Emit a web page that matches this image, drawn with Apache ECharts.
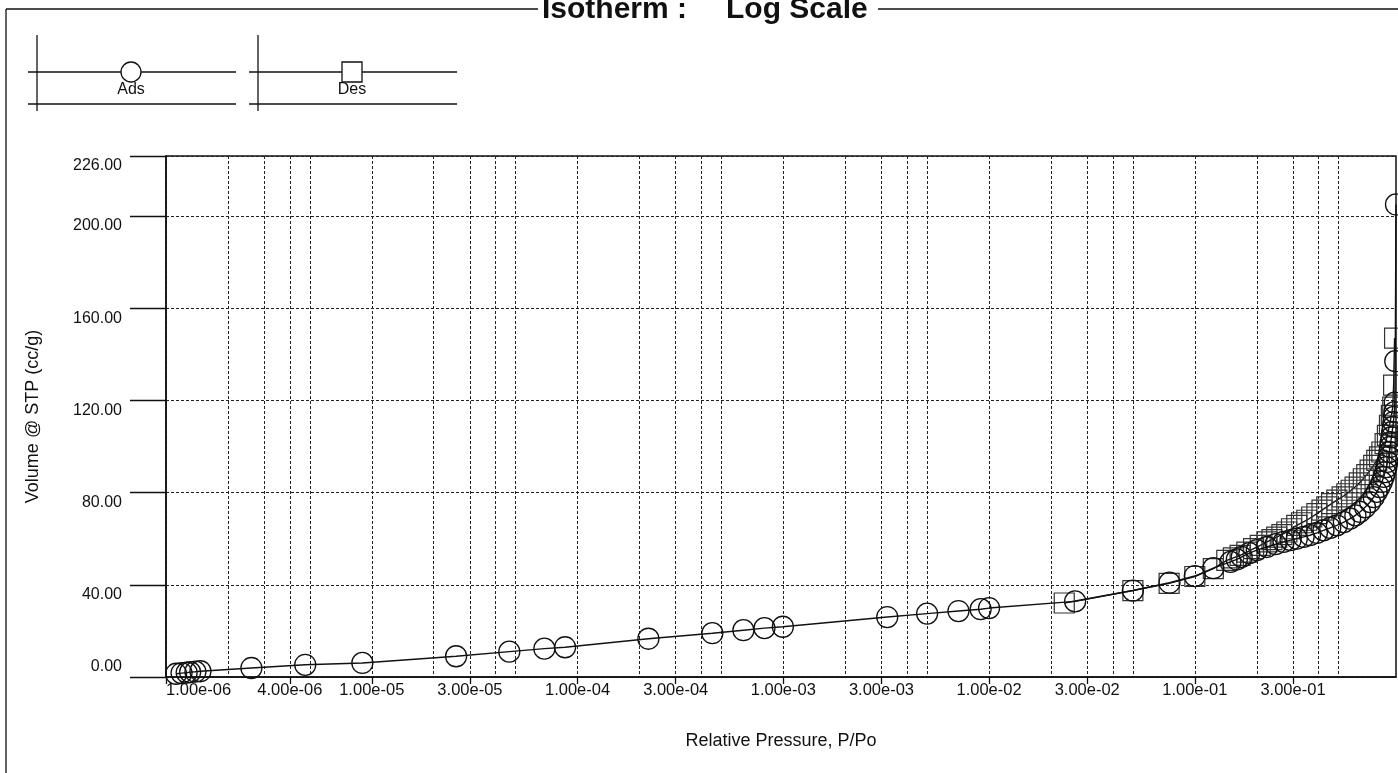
<!DOCTYPE html>
<html>
<head>
<meta charset="utf-8">
<script src="https://cdn.jsdelivr.net/npm/echarts@6/dist/echarts.min.js"></script>
<style>
  html, body { margin: 0; padding: 0; background: #ffffff; }
  #chart { width: 1398px; height: 773px; }
</style>
</head>
<body>
<div id="chart"></div>
<script>
// Adsorption branch: relative pressure P/Po and volume adsorbed (cc/g STP)
const adsP = [1.12e-6, 1.19e-6, 1.26e-6, 1.31e-6, 1.39e-6, 1.47e-6, 2.6e-6, 4.75e-6, 9.0e-6,
  2.57e-5, 4.66e-5, 6.9e-5, 8.7e-5, 2.21e-4, 4.52e-4, 6.4e-4, 8.1e-4, 9.95e-4,
  3.2e-3, 5.0e-3, 7.1e-3, 9.1e-3, 1.0e-2, 0.0262, 0.050, 0.0753, 0.100, 0.123,
  0.149, 0.160, 0.169, 0.184, 0.200, 0.224, 0.247, 0.270, 0.292, 0.313, 0.338, 0.363,
  0.392, 0.422, 0.455, 0.490, 0.530, 0.569, 0.603, 0.635, 0.672, 0.711, 0.740, 0.766,
  0.790, 0.811, 0.828, 0.841, 0.853, 0.863, 0.874, 0.883, 0.890, 0.895, 0.903, 0.910,
  0.917, 0.923, 0.928, 0.933, 0.937, 0.942, 0.950];
const adsV = [1.4, 1.7, 1.9, 2.1, 2.3, 2.5, 3.9, 5.3, 6.1,
  9.0, 11.0, 12.3, 12.9, 16.6, 19.0, 20.3, 21.2, 21.8,
  26.0, 27.5, 28.6, 29.4, 29.9, 32.8, 37.5, 40.9, 43.8, 47.2,
  49.9, 51.0, 52.1, 53.7, 55.0, 56.4, 57.6, 58.6, 59.4, 60.0, 60.8, 61.5,
  62.5, 63.6, 64.7, 65.8, 67.2, 68.7, 70.1, 71.6, 73.6, 75.9, 78.0, 80.3,
  82.4, 84.6, 86.8, 88.9, 91.0, 93.3, 95.5, 97.6, 99.8, 101.9, 104.0, 106.3,
  108.5, 110.6, 112.8, 114.9, 119.0, 137.0, 205.0];

// Desorption branch, recorded from high to low pressure
const desP = [0.935, 0.925, 0.916, 0.902, 0.883, 0.863, 0.841, 0.811, 0.790, 0.766,
  0.740, 0.711, 0.685, 0.659, 0.630, 0.601, 0.575, 0.548, 0.520, 0.490,
  0.462, 0.438, 0.415, 0.392, 0.370, 0.350, 0.330, 0.313, 0.295, 0.280,
  0.265, 0.250, 0.237, 0.224, 0.208, 0.193, 0.179, 0.166, 0.154, 0.143,
  0.123, 0.100, 0.075, 0.050, 0.0232];
const desV = [147.0, 126.6, 117.1, 113.5, 109.2, 104.8, 101.2, 97.6, 95.5, 94.0,
  91.8, 89.7, 87.8, 86.0, 84.2, 82.4, 81.0, 79.5, 78.1, 76.7,
  75.2, 73.8, 72.4, 70.9, 69.4, 68.0, 66.9, 65.8, 64.3, 62.9,
  61.8, 60.7, 59.6, 58.6, 57.1, 55.7, 54.2, 52.8, 51.7, 50.6,
  47.0, 43.6, 40.6, 37.5, 32.1];

// Labelled pressure ticks and dotted grid positions on the log axis
const xTickLabels = [1e-6, 4e-6, 1e-5, 3e-5, 1e-4, 3e-4, 1e-3, 3e-3, 1e-2, 3e-2, 1e-1, 3e-1];
const xGridValues = [
  1e-6, 2e-6, 3e-6, 4e-6, 5e-6,
  1e-5, 2e-5, 3e-5, 4e-5, 5e-5,
  1e-4, 2e-4, 3e-4, 4e-4, 5e-4,
  1e-3, 2e-3, 3e-3, 4e-3, 5e-3,
  1e-2, 2e-2, 3e-2, 4e-2, 5e-2,
  1e-1, 2e-1, 3e-1, 4e-1, 5e-1];
const xMin = 1e-6, xMax = 0.95;
const yMin = 0, yMax = 226, yStep = 40;

const FONT = '"Liberation Sans", Arial, sans-serif';
const INK = '#111111';

function sci(v) {
  let e = Math.floor(Math.log10(v) + 1e-9);
  let m = v / Math.pow(10, e);
  if (m >= 9.995) { m /= 10; e += 1; }
  const a = Math.abs(e);
  return m.toFixed(2) + 'e' + (e < 0 ? '-' : '+') + (a < 10 ? '0' : '') + a;
}

const pairs = (xs, ys) => xs.map((x, i) => [x, ys[i]]);

const chart = echarts.init(document.getElementById('chart'), null, { renderer: 'canvas' });

const dash = { type: [3, 2], color: '#222222', width: 1 };

function legendItem(x0, label, symbolShape) {
  return [
    { type: 'line', shape: { x1: x0 + 9, y1: 35, x2: x0 + 9, y2: 111 }, style: { stroke: INK, lineWidth: 1.3 } },
    { type: 'line', shape: { x1: x0, y1: 72, x2: x0 + 208, y2: 72 }, style: { stroke: INK, lineWidth: 1.3 } },
    { type: 'line', shape: { x1: x0, y1: 104, x2: x0 + 208, y2: 104 }, style: { stroke: INK, lineWidth: 1.3 } },
    symbolShape,
    { type: 'text', x: x0 + 103, y: 90, style: { text: label, font: '16px ' + FONT, fill: INK, align: 'center', verticalAlign: 'middle' } }
  ];
}

const graphics = [
  // outer frame with the title set into its top edge
  { type: 'line', shape: { x1: 6, y1: 9, x2: 538, y2: 9 }, style: { stroke: INK, lineWidth: 1.3 } },
  { type: 'line', shape: { x1: 878, y1: 9, x2: 1398, y2: 9 }, style: { stroke: INK, lineWidth: 1.3 } },
  { type: 'line', shape: { x1: 6, y1: 9, x2: 6, y2: 773 }, style: { stroke: INK, lineWidth: 1.3 } },
  { type: 'text', x: 542, y: 10, style: { text: 'Isotherm :', font: 'bold 30px ' + FONT, fill: INK, align: 'left', verticalAlign: 'middle' } },
  { type: 'text', x: 726, y: 10, style: { text: 'Log Scale', font: 'bold 30px ' + FONT, fill: INK, align: 'left', verticalAlign: 'middle' } }
].concat(
  legendItem(28, 'Ads', { type: 'circle', shape: { cx: 131, cy: 72, r: 10 }, style: { fill: '#fff', stroke: INK, lineWidth: 1.3 } }),
  legendItem(249, 'Des', { type: 'rect', shape: { x: 342, y: 62, width: 20, height: 20 }, style: { fill: '#fff', stroke: INK, lineWidth: 1.3 } })
);

const option = {
  backgroundColor: '#ffffff',
  animation: false,
  textStyle: { fontFamily: FONT, color: INK },
  grid: {
    left: 166, right: 2, top: 156, bottom: 96,
    show: true, borderColor: INK, borderWidth: 1.5,
    containLabel: false, outerBoundsMode: 'none'
  },
  graphic: graphics,
  xAxis: [
    {
      type: 'log', logBase: 10, min: xMin, max: xMax,
      name: 'Relative Pressure, P/Po', nameLocation: 'middle', nameGap: 55,
      nameTextStyle: { fontSize: 18, color: INK, fontFamily: FONT },
      axisLine: { show: true, onZero: false, lineStyle: { color: INK, width: 1.5 } },
      axisTick: { show: true, length: 7, customValues: xTickLabels, lineStyle: { color: INK, width: 1.3 } },
      axisLabel: {
        show: true, customValues: xTickLabels, formatter: sci, margin: 5,
        fontSize: 16.5, color: INK, fontFamily: FONT, hideOverlap: false,
        alignMinLabel: 'left'
      },
      splitLine: { show: false }
    },
    {
      type: 'log', logBase: 10, min: xMin, max: xMax, position: 'top',
      axisLine: { show: false },
      axisTick: { show: false, customValues: xGridValues },
      axisLabel: { show: false },
      splitLine: { show: true, lineStyle: dash }
    }
  ],
  yAxis: [
    {
      type: 'value', min: yMin, max: yMax, interval: yStep,
      name: 'Volume @ STP (cc/g)', nameLocation: 'middle', nameGap: 124,
      nameTextStyle: { fontSize: 18, color: INK, fontFamily: FONT },
      axisLine: { show: true, lineStyle: { color: INK, width: 1.5 } },
      axisTick: { show: true, length: 36, lineStyle: { color: INK, width: 1.3 } },
      axisLabel: {
        formatter: v => (v === 0 ? '' : v.toFixed(2)),
        margin: 44, fontSize: 16, color: INK, fontFamily: FONT,
        verticalAlign: 'top', padding: [2, 0, 0, 0], showMaxLabel: true
      },
      splitLine: { show: true, lineStyle: dash }
    },
    {
      type: 'value', min: yMin, max: yMax, interval: yStep, position: 'left',
      axisLine: { show: false }, axisTick: { show: false }, splitLine: { show: false },
      axisLabel: {
        formatter: v => (v === 0 ? v.toFixed(2) : ''),
        margin: 44, fontSize: 16, color: INK, fontFamily: FONT,
        verticalAlign: 'bottom', padding: [0, 0, 2, 0]
      }
    }
  ],
  series: [
    {
      name: 'Ads', type: 'line', xAxisIndex: 0, yAxisIndex: 0,
      data: pairs(adsP, adsV),
      symbol: 'circle', symbolSize: 21, showAllSymbol: true,
      lineStyle: { color: INK, width: 1.4 },
      itemStyle: { color: 'rgba(0,0,0,0)', borderColor: INK, borderWidth: 1.3 },
      z: 3
    },
    {
      name: 'Des', type: 'line', xAxisIndex: 0, yAxisIndex: 0,
      data: pairs(desP, desV),
      symbol: 'rect', symbolSize: 20, showAllSymbol: true,
      lineStyle: { color: INK, width: 1.4 },
      itemStyle: { color: 'rgba(0,0,0,0)', borderColor: '#333333', borderWidth: 1.2 },
      z: 2
    }
  ]
};

chart.setOption(option);
</script>
</body>
</html>
